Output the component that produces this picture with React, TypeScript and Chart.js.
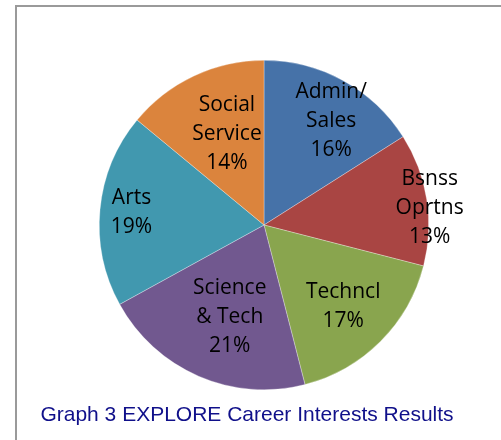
import React, { useEffect, useRef } from "react";
import { Chart, registerables } from "chart.js";

Chart.register(...registerables);

const categories = ["Admin/\nSales", "Bsnss\nOprtns", "Techncl", "Science\n& Tech", "Arts", "Social\nService"];
const values = [16, 13, 17, 21, 19, 14];
const colors = ["#4672A8", "#A94543", "#89A54E", "#71588F", "#4198AF", "#DB843D"];
const titleText = "Graph 3 EXPLORE Career Interests Results";

// label placement per slice: [radius fraction, dx, dy]
const labelPlacement: [number, number, number][] = [
  [0.72, 10, 0],
  [1.0, 3, 9],
  [0.68, 0, 2],
  [0.6, 5, 1],
  [0.82, 2, 0],
  [0.6, 5, -2],
];

const sliceLabels = {
  id: "sliceLabels",
  afterDatasetsDraw(chart: any) {
    const ctx = chart.ctx;
    const meta = chart.getDatasetMeta(0);
    ctx.save();
    ctx.font = '21px "Open Sans"';
    ctx.fillStyle = "#000000";
    ctx.textAlign = "center";
    ctx.textBaseline = "middle";
    const lh = 29;
    meta.data.forEach((arc: any, i: number) => {
      const p = arc.getProps(["x", "y", "startAngle", "endAngle", "outerRadius"], true);
      const mid = (p.startAngle + p.endAngle) / 2;
      const [f, dx, dy] = labelPlacement[i];
      const cx = p.x + Math.cos(mid) * p.outerRadius * f + dx;
      const cy = p.y + Math.sin(mid) * p.outerRadius * f + dy;
      const lines = categories[i].split("\n").concat([values[i] + "%"]);
      lines.forEach((t: string, j: number) => {
        ctx.fillText(t, cx, cy + (j - (lines.length - 1) / 2) * lh);
      });
    });
    ctx.restore();
  },
};

const bottomTitle = {
  id: "bottomTitle",
  afterDraw(chart: any) {
    const ctx = chart.ctx;
    ctx.save();
    ctx.font = '21px "Liberation Sans", Arial, sans-serif';
    ctx.fillStyle = "#10108A";
    ctx.textAlign = "center";
    ctx.textBaseline = "alphabetic";
    ctx.fillText(titleText, 247, 421);
    ctx.restore();
  },
};

export default function App() {
  const ref = useRef<HTMLCanvasElement | null>(null);
  useEffect(() => {
    if (!ref.current) return;
    const chart = new Chart(ref.current, {
      type: "pie",
      data: {
        labels: categories.map((c) => c.replace("\n", " ")),
        datasets: [
          {
            data: values,
            backgroundColor: colors,
            borderColor: "rgba(255,255,255,0.5)",
            borderWidth: 0.6,
          },
        ],
      },
      options: {
        animation: false,
        responsive: false,
        maintainAspectRatio: false,
        layout: { padding: { left: 99, right: 72, top: 60, bottom: 50 } },
        plugins: {
          legend: { display: false },
          title: { display: false },
          tooltip: { enabled: false },
        },
      },
      plugins: [sliceLabels, bottomTitle],
    });
    return () => chart.destroy();
  }, []);
  return (
    <div style={{ position: "absolute", left: 0, top: 0, width: 501, height: 440, background: "#fff", overflow: "hidden" }}>
      <div
        style={{
          position: "absolute",
          left: 15,
          top: 5,
          width: 600,
          height: 600,
          borderLeft: "2px solid #9a9a9a",
          borderTop: "2px solid #9a9a9a",
        }}
      />
      <canvas ref={ref} width={501} height={440} style={{ position: "absolute", left: 0, top: 0, width: 501, height: 440 }} />
    </div>
  );
}
